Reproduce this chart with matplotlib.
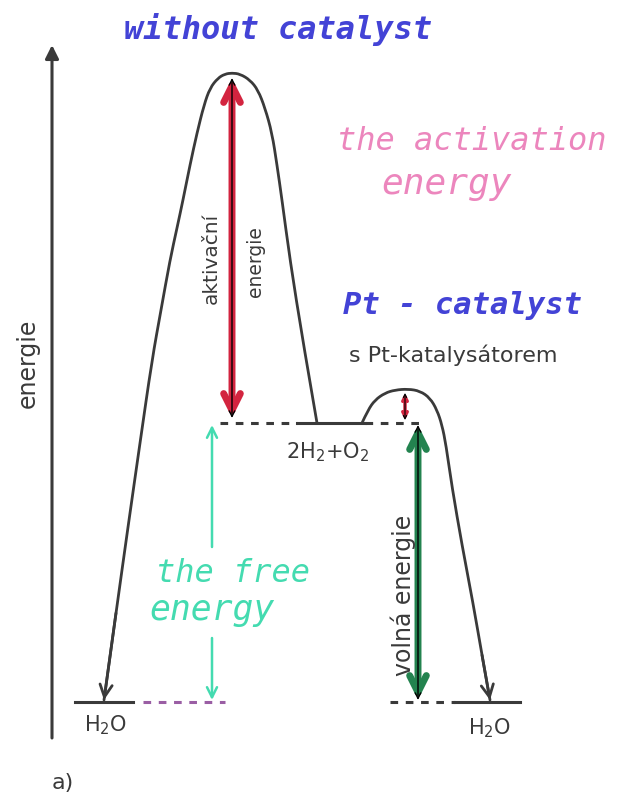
import matplotlib
matplotlib.use('Agg')
import matplotlib.pyplot as plt
from matplotlib.path import Path
from matplotlib.patches import PathPatch

# energy levels (energy units, H2O = 0)
level_names = ['H$_2$O', '2H$_2$+O$_2$', 'H$_2$O']
level_energy = [0, 279, 0]
ts_energy = [629, 313]            # without catalyst, with Pt catalyst

# traced reaction path without catalyst (x, energy)
uncat_x = [317, 303, 290, 282, 277, 272, 265, 258, 250, 240, 232,
           225, 218, 210, 204, 197, 190, 183, 177, 170, 161, 152, 140, 128, 116, 104]
uncat_e = [279, 360, 442, 502, 537, 569, 594, 612, 622, 628, 629,
           628, 624, 614, 597, 569, 537, 502, 474, 442, 392, 342, 259, 175, 89, 2]

# traced reaction path with Pt catalyst
cat_x = [362, 368, 375, 385, 395, 408, 420, 430, 437, 442, 446, 452, 462, 473, 482, 490]
cat_e = [279, 292, 302, 309, 312, 313, 311, 304, 292, 277, 257, 215, 157, 99, 47, 2]

ink = '#3a3a3a'
blue = '#4343d6'
pink = '#ec86bd'
teal = '#44dbb0'
red = '#d3243f'
green = '#23834f'
purple = '#9a5ea4'

fig = plt.figure(figsize=(6.2, 7.99), dpi=100)
ax = fig.add_axes([0, 0, 1, 1])
ax.set_xlim(0, 620)
ax.set_ylim(-97, 702)
ax.axis('off')


def arrow(x0, y0, x1, y1, color, lw, style='->', ms=18):
    ax.annotate('', xy=(x1, y1), xytext=(x0, y0),
                arrowprops=dict(arrowstyle=style, color=color, lw=lw,
                                mutation_scale=ms, shrinkA=0, shrinkB=0))


def smooth_path(xs, ys, color, lw):
    # quadratic bezier through the midpoints of the traced points
    pts = list(zip(xs, ys))
    verts = [pts[0]]
    codes = [Path.MOVETO]
    for i in range(1, len(pts) - 2):
        mid = ((pts[i][0] + pts[i + 1][0]) / 2, (pts[i][1] + pts[i + 1][1]) / 2)
        verts += [pts[i], mid]
        codes += [Path.CURVE3, Path.CURVE3]
    verts += [pts[-2], pts[-1]]
    codes += [Path.CURVE3, Path.CURVE3]
    ax.add_patch(PathPatch(Path(verts, codes), facecolor='none',
                           edgecolor=color, lw=lw, capstyle='round'))


# energy axis
arrow(52, -36, 52, 657, ink, 2.2, '-|>', 20)
ax.text(28, 339, 'energie', rotation=90, ha='center', va='center',
        fontsize=17, color=ink, family='DejaVu Sans')

# reaction paths
smooth_path(uncat_x, uncat_e, ink, 2.0)
arrow(uncat_x[-2], uncat_e[-2], uncat_x[-1], uncat_e[-1], ink, 2.0, '->', 22)
smooth_path(cat_x, cat_e, ink, 2.0)
arrow(cat_x[-2], cat_e[-2], cat_x[-1], cat_e[-1], ink, 2.0, '->', 22)

# levels
ax.plot([75, 133], [level_energy[0]] * 2, color=ink, lw=2.2)
ax.plot([143, 225], [level_energy[0]] * 2, color=purple, lw=2.2, ls=(0, (2.5, 2.5)))
ax.plot([220, 297], [level_energy[1]] * 2, color=ink, lw=2.2, ls=(0, (2.5, 2.5)))
ax.plot([297, 365], [level_energy[1]] * 2, color=ink, lw=2.2)
ax.plot([365, 425], [level_energy[1]] * 2, color=ink, lw=2.2, ls=(0, (2.5, 2.5)))
ax.plot([390, 455], [level_energy[2]] * 2, color=ink, lw=2.2, ls=(0, (2.5, 2.5)))
ax.plot([455, 520], [level_energy[2]] * 2, color=ink, lw=2.2)

# activation energy arrows
arrow(232, level_energy[1] + 5, 232, ts_energy[0] - 5, red, 5, '<->', 30)
arrow(232, level_energy[1] + 5, 232, ts_energy[0] - 5, 'black', 1.0, '<->', 10)
arrow(405, level_energy[1] + 3, 405, ts_energy[1] - 4, red, 2.5, '<->', 8)
arrow(405, level_energy[1] + 3, 405, ts_energy[1] - 4, 'black', 0.8, '<->', 6)

# free energy arrows
arrow(418, level_energy[1] - 2, 418, level_energy[2] + 2, green, 5, '<->', 30)
arrow(418, level_energy[1] - 2, 418, level_energy[2] + 2, 'black', 1.0, '<->', 10)
arrow(212, 155, 212, level_energy[1] - 2, teal, 1.8, '->', 18)
arrow(212, 64, 212, level_energy[0] + 2, teal, 1.8, '->', 18)

# printed labels
ax.text(211, 444, 'aktivační', rotation=90, ha='center', va='center',
        fontsize=14.5, color=ink, family='DejaVu Sans')
ax.text(256, 440, 'energie', rotation=90, ha='center', va='center',
        fontsize=13.5, color=ink, family='DejaVu Sans')
ax.text(403, 107, 'volná energie', rotation=90, ha='center', va='center',
        fontsize=17, color=ink, family='DejaVu Sans')
ax.text(453, 347, 's Pt-katalysátorem', ha='center', va='center',
        fontsize=16, color=ink, family='DejaVu Sans')
ax.text(328, 250, level_names[1], ha='center', va='center',
        fontsize=15, color=ink, family='DejaVu Sans')
ax.text(106, -23, level_names[0], ha='center', va='center',
        fontsize=15, color=ink, family='DejaVu Sans')
ax.text(490, -26, level_names[2], ha='center', va='center',
        fontsize=15, color=ink, family='DejaVu Sans')
ax.text(63, -81, 'a)', ha='center', va='center',
        fontsize=16, color=ink, family='DejaVu Sans')

# handwritten notes
hand = dict(family='DejaVu Sans Mono', style='oblique', ha='center', va='center')
ax.text(278, 672, 'without catalyst', fontsize=23, color=blue, weight='bold', **hand)
ax.text(462, 396, 'Pt - catalyst', fontsize=22, color=blue, weight='bold', **hand)
ax.text(472, 560, 'the activation', fontsize=23, color=pink, **hand)
ax.text(447, 518, 'energy', fontsize=26, color=pink, **hand)
ax.text(233, 129, 'the free', fontsize=23, color=teal, **hand)
ax.text(212, 92, 'energy', fontsize=25, color=teal, **hand)

fig.savefig('out.png', dpi=100, facecolor='white')
